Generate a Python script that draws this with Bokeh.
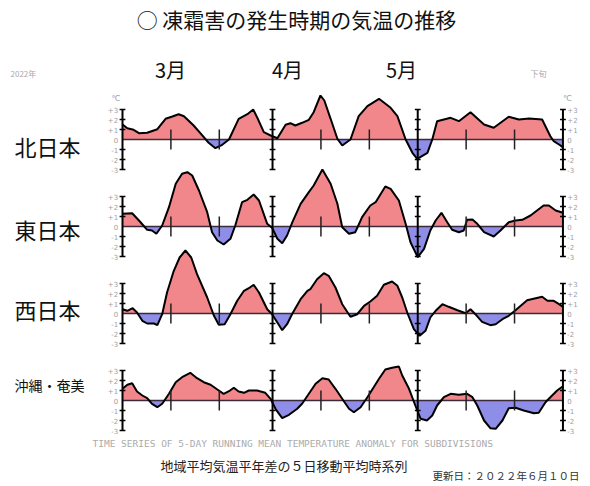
import numpy as np
from bokeh.plotting import figure
from bokeh.models import Range1d, Label
from bokeh.core.properties import value
from bokeh.embed import file_html
from bokeh.resources import INLINE

# ---- data: day index (0 = 1 March), 5-day running mean temperature anomaly (degC)
north_days = [0, 1, 2.3, 3.4, 5.1, 7.2, 8.9, 10.3, 11.6, 12.7, 14.7, 16.8, 17.8, 19.2, 20.6, 22, 24, 25.8, 27,
              27.8, 29.2, 30.6, 32, 33.7, 34.7, 35.7, 37.1, 38.5, 39.5, 40.9, 41.7, 43, 44.4, 45.4, 47.1, 48.8,
              50.6, 53, 55.4, 56.8, 58.5, 59.9, 60.9, 63, 64, 65, 66.4, 67.8, 69.5, 71.9, 74.7, 76.7, 79.8,
              81.9, 84, 86.7, 88.4, 89.1, 90.5, 91]
north_vals = [1.5, 1.13, 0.97, 0.63, 0.67, 1.03, 2.07, 2.3, 2.53, 2.33, 1.4, 0.23, -0.33, -0.87, -0.53, 0, 2.07,
              2.53, 3.0, 2.23, 0.73, 0.4, 0.13, 1.47, 1.63, 1.4, 1.67, 1.97, 2.73, 4.4, 3.9, 2.07, 0.07, -0.6,
              0, 2.33, 3.33, 4.07, 3.17, 2.33, 0, -1.33, -1.93, -1.33, 0, 1.83, 2.0, 2.17, 1.83, 2.73, 1.5,
              1.17, 2.27, 2.0, 2.1, 2.0, 0.33, -0.17, -0.6, -0.8]

east_days = [0, 2, 3.4, 5.1, 6.1, 7, 8.2, 9.6, 11, 12.3, 13.4, 14.4, 15.8, 17.5, 18.5, 19.6, 20.9, 22.3, 23.3,
             24.7, 25.8, 27.1, 28.2, 29.9, 30.9, 32, 33, 34, 35.1, 36.8, 38.5, 39.5, 41.3, 43, 44.4, 45.4,
             46.8, 48.1, 49.5, 51.2, 52.3, 54.3, 55.4, 57.1, 58.5, 59.5, 61, 62.3, 63.6, 64.7, 65.9, 67.1,
             68.1, 69.5, 70.5, 71.2, 72.3, 73.3, 74.7, 76.7, 78.1, 79.8, 81.2, 82.6, 84.3, 87, 88.1, 89.5,
             91]
east_vals = [1.27, 1.33, 0.6, -0.33, -0.4, -0.73, 0.1, 1.93, 4.27, 5.27, 5.43, 5.1, 3.6, 1.43, -0.57, -1.4,
             -1.8, -1.23, 0.1, 2.43, 2.67, 3.2, 2.6, 0.27, -0.13, -1.23, -1.67, -0.9, 0.43, 2.27, 3.43, 4.1,
             5.7, 4.27, 2.27, -0.07, -0.73, -0.57, 0.93, 2.1, 2.43, 4.0, 3.77, 2.6, 0.27, -1.57, -3.07,
             -2.23, -0.4, 0.6, 1.37, 0.43, -0.33, -0.57, -0.4, 0.67, 0.7, 0.27, -0.57, -1.0, -0.4, 0.43,
             0.6, 0.67, 1.1, 2.1, 2.1, 1.6, 1.37]

west_days = [0, 1, 2.1, 3, 4.1, 5.1, 6.5, 7.2, 8.2, 9.2, 10.6, 11.8, 13, 14.2, 15.4, 17.5, 18.9, 19.9, 21.1,
             22.3, 23.7, 25.1, 26.1, 27.1, 28.2, 29.9, 30.9, 32, 33, 34, 35.1, 36.8, 38.2, 38.8, 40.2, 41.6,
             42.6, 44, 45.4, 47.1, 48.5, 49.9, 51.2, 52.6, 54, 55.7, 56.8, 57.8, 58.9, 60.2, 61.4, 62.6,
             63.6, 64.7, 66.1, 67.4, 69.2, 70.9, 71.9, 72.9, 74.3, 76, 77.1, 78.5, 79.8, 81.2, 83.6, 86.7,
             87.8, 89.1, 90.2, 91]
west_vals = [0.43, 0.27, 0.53, 0.1, -0.73, -1.0, -1.0, -1.17, -0.07, 2.1, 4.27, 5.6, 6.3, 5.6, 3.93, 1.6,
             -0.23, -1.13, -1.07, -0.07, 1.27, 2.27, 2.53, 2.87, 2.1, 0.43, -0.07, -0.9, -1.67, -1.07, 0,
             1.43, 2.27, 2.43, 3.43, 4.03, 3.77, 2.6, 0.93, -0.33, -0.07, 0.77, 1.2, 1.77, 2.87, 3.2, 2.77,
             1.6, 0, -1.57, -2.23, -1.73, -0.4, 0.27, 0.93, 0.67, 0.33, 0.03, 0.43, -0.07, -0.83, -1.17,
             -1.07, -0.57, -0.23, 0.33, 1.33, 1.67, 1.27, 1.27, 0.93, 0.67]

okinawa_days = [0, 1, 2, 3, 4.1, 5.1, 6.1, 7.2, 8.2, 9.6, 11, 12.3, 14, 15.4, 16.8, 18.2, 19.6, 20.9, 22, 23,
                24, 25.1, 26.1, 27.8, 29.5, 30.6, 31.6, 33, 34.4, 36.1, 37.1, 38.5, 39.9, 41.3, 42.6, 44,
                45.4, 46.8, 47.8, 49.2, 50.6, 51.9, 53, 54.3, 55.7, 57.1, 57.8, 59.2, 60.5, 61.6, 62.9, 64,
                65, 66.4, 67.8, 69.5, 71.2, 72.3, 73.3, 74.7, 76, 77.1, 78.5, 79.8, 81.2, 82.9, 85, 86,
                87.4, 88.4, 89.8, 91]
okinawa_vals = [1.17, 1.57, 1.73, 0.9, 0.5, 0.23, -0.33, -0.67, -0.33, 0.67, 1.83, 2.33, 2.77, 2.23, 1.83,
                1.57, 1.1, 0.67, 0.93, 1.27, 0.9, 0.77, 1.0, 1.0, 0.77, 0.17, -0.83, -1.77, -1.43, -0.83,
                -0.33, 0.67, 1.67, 2.23, 2.1, 1.17, 0.17, -0.83, -1.17, -0.67, 0.33, 1.33, 2.17, 3.1, 3.27,
                3.4, 2.5, 1.17, -0.5, -1.83, -2.0, -1.5, -0.5, 0.33, 0.67, 0.57, 0.67, 0.33, -0.5, -2.0,
                -2.77, -2.83, -2.0, -0.77, -0.73, -1.0, -1.27, -1.23, -0.17, 0.33, 1.0, 1.43]

regions = ["北日本", "東日本", "西日本", "沖縄・奄美"]
series_days = [north_days, east_days, west_days, okinawa_days]
series_vals = [north_vals, east_vals, west_vals, okinawa_vals]
months = ["3月", "4月", "5月"]
month_start_days = [0, 31, 61]
end_day = 91
dekad_days = [10, 20, 41, 51, 71, 81]
tick_values = [3, 2, 1, 0, -1, -2, -3]
tick_labels = ["+3", "+2", "+1", "0", "-1", "-2", "-3"]

# ---- layout constants (pixels of the page; the figure sits at the page's top-left corner)
W, H = 588, 484
X0_PX, PX_PER_DAY = 122, 4.84
PANEL_ZERO_PX = [139, 226, 313, 400]
PX_PER_DEG = 10.0
ZERO0 = PANEL_ZERO_PX[0]
offsets = [-(z - ZERO0) / PX_PER_DEG for z in PANEL_ZERO_PX]

x_lo = (0 - X0_PX) / PX_PER_DAY
x_hi = (W - X0_PX) / PX_PER_DAY
y_hi = ZERO0 / PX_PER_DEG
y_lo = (ZERO0 - H) / PX_PER_DEG

p = figure(width=W, height=H, x_range=Range1d(x_lo, x_hi), y_range=Range1d(y_lo, y_hi),
           x_axis_type=None, y_axis_type=None, toolbar_location=None, output_backend="svg",
           min_border=0, outline_line_color=None, background_fill_color="white")
p.grid.visible = False

RED = "#F2878B"
BLUE = "#8E8EE8"


def with_crossings(t, v):
    ts, vs = [], []
    for i in range(len(t)):
        if i > 0 and v[i - 1] * v[i] < 0:
            tc = t[i - 1] + (t[i] - t[i - 1]) * v[i - 1] / (v[i - 1] - v[i])
            ts.append(tc)
            vs.append(0.0)
        ts.append(t[i])
        vs.append(v[i])
    return np.array(ts), np.array(vs)


for k in range(4):
    off = offsets[k]
    ts, vs = with_crossings(series_days[k], series_vals[k])
    p.varea(x=ts, y1=off, y2=off + np.maximum(vs, 0), fill_color=RED)
    p.varea(x=ts, y1=off + np.minimum(vs, 0), y2=off, fill_color=BLUE)
    # zero line
    p.line([0, end_day], [off, off], line_color="#3a2a3a", line_width=1.5)
    # curve
    p.line(ts, vs + off, line_color="black", line_width=2)
    # bold vertical axes with integer ticks
    axis_days = month_start_days + [end_day]
    p.segment(x0=axis_days, y0=[off - 3] * 4, x1=axis_days, y1=[off + 3] * 4,
              line_color="black", line_width=2)
    tx0, tx1, ty = [], [], []
    for d in axis_days:
        for tv in tick_values:
            if tv == 0:
                continue
            tx0.append(d - 0.6)
            tx1.append(d + 0.6)
            ty.append(off + tv)
    p.segment(x0=tx0, y0=ty, x1=tx1, y1=ty, line_color="black", line_width=1.5)
    # dekad ticks
    p.segment(x0=dekad_days, y0=[off - 1] * len(dekad_days), x1=dekad_days,
              y1=[off + 1] * len(dekad_days), line_color="#222222", line_width=1.5)
    # tick labels
    ys = [off + tv for tv in tick_values]
    p.text(x=[-0.9] * 7, y=ys, text=tick_labels, text_align="right", text_baseline="middle",
           text_font_size="7px", text_color="#a0a0a0", text_font=value("DejaVu Sans"))
    p.text(x=[end_day + 0.9] * 7, y=ys, text=tick_labels, text_align="left", text_baseline="middle",
           text_font_size="7px", text_color="#a0a0a0", text_font=value("DejaVu Sans"))
    if k == 0:
        p.text(x=[-1.4, end_day + 0.9], y=[off + 4.1, off + 4.1], text=["℃", "℃"],
               text_align="center", text_baseline="middle", text_font_size="8px",
               text_color="#a0a0a0", text_font=value("DejaVu Sans"))


def lab(text, x, y, size, color="#111111", font="Noto Sans CJK JP", align="left"):
    p.add_layout(Label(x=x, y=H - y, x_units="screen", y_units="screen", text=text,
                       text_font_size=size, text_color=color, text_font=font, text_align=align,
                       text_baseline="middle"))


lab("○ 凍霜害の発生時期の気温の推移", 296, 18, "21px", align="center")
month_px = [170, 287, 401]
for m, mx in zip(months, month_px):
    lab(m, mx, 69, "20px", align="center")
lab("2022年", 10, 73, "8px", color="#a8a8a8")
lab("下旬", 530, 73, "8px", color="#a8a8a8")
label_y = [145, 228, 308, 384]
label_size = ["22px", "22px", "22px", "14px"]
for r, ly, ls in zip(regions, label_y, label_size):
    lab(r, 14, ly, ls)
lab("TIME SERIES OF 5-DAY RUNNING MEAN TEMPERATURE ANOMALY FOR SUBDIVISIONS", 92, 443, "9.5px",
    color="#ababab", font="DejaVu Sans Mono")
lab("地域平均気温平年差の５日移動平均時系列", 160, 465, "13px", color="#222222")
lab("更新日：２０２２年６月１０日", 432, 475, "10.5px", color="#333333")

open("out.html", "w").write(file_html(p, INLINE))
